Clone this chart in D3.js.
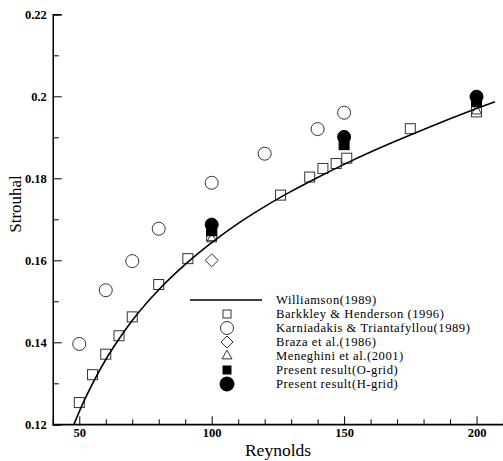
<!DOCTYPE html>
<html><head><meta charset="utf-8">
<script src="https://cdn.jsdelivr.net/npm/d3@7"></script>
<style>body{margin:0;background:#fff}svg{display:block}</style>
</head><body>
<script>
// ---- data ----
const williamsonRe = [48, 50, 55, 60, 65, 70, 80, 90, 100, 110, 120, 130, 140, 150, 160, 170, 180, 190, 200, 207];
const williamsonSt = [0.1200, 0.1231, 0.1299, 0.1358, 0.1408, 0.1453, 0.1528, 0.1590, 0.1643, 0.1690, 0.1731, 0.1768, 0.1802, 0.1834, 0.1864, 0.1892, 0.1919, 0.1945, 0.1970, 0.1987];
const barkleyRe = [50, 55, 60, 65, 70, 80, 91, 100, 126, 137, 142, 147, 151, 175, 200];
const barkleySt = [0.1253, 0.1321, 0.1371, 0.1416, 0.1462, 0.1541, 0.1604, 0.1660, 0.1759, 0.1803, 0.1824, 0.1836, 0.1849, 0.1921, 0.1962];
const karniRe = [50, 60, 70, 80, 100, 120, 140, 150];
const karniSt = [0.1396, 0.1527, 0.1598, 0.1677, 0.1789, 0.1860, 0.1920, 0.1960];
const brazaRe = [100];
const brazaSt = [0.1600];
const meneghiniRe = [100, 200];
const meneghiniSt = [0.1652, 0.1964];
const oGridRe = [100, 150, 200];
const oGridSt = [0.1672, 0.1882, 0.1988];
const hGridRe = [100, 150, 200];
const hGridSt = [0.1687, 0.1901, 0.1999];
const xMajorTicks = [50, 100, 150, 200];
const xMinorTicks = [60, 70, 80, 90, 110, 120, 130, 140, 160, 170, 180, 190];
const yMajorTicks = [0.12, 0.14, 0.16, 0.18, 0.2, 0.22];
const yMinorTicks = [0.13, 0.15, 0.17, 0.19, 0.21];
const legendLabels = ["Williamson(1989)", "Barkkley & Henderson (1996)", "Karniadakis & Triantafyllou(1989)",
  "Braza et al.(1986)", "Meneghini et al.(2001)", "Present result(O-grid)", "Present result(H-grid)"];

const W = 503, H = 461;
const svg = d3.select("body").append("svg").attr("width", W).attr("height", H);
const font = "'Liberation Serif','Times New Roman',serif";

const x = d3.scaleLinear().domain([40, 210]).range([52.8, 503]);
const y = d3.scaleLinear().domain([0.12, 0.22]).range([424.3, 14.3]);

const zip = (a, b) => a.map((v, i) => [v, b[i]]);

// axes
const xAxisMajor = d3.axisBottom(x).tickValues(xMajorTicks).tickSize(-8).tickPadding(4).tickFormat(d3.format("d"));
const xAxisMinor = d3.axisBottom(x).tickValues(xMinorTicks).tickSize(-5).tickFormat("");
const yAxisMajor = d3.axisLeft(y).tickValues(yMajorTicks).tickSize(-9).tickPadding(6).tickFormat(d => String(+d.toFixed(2)));
const yAxisMinor = d3.axisLeft(y).tickValues(yMinorTicks).tickSize(-6).tickFormat("");

function styleAxis(g) {
  g.select(".domain").attr("stroke", "#000").attr("stroke-width", 1.2);
  g.selectAll(".tick line").attr("stroke", "#000").attr("stroke-width", 1);
  g.selectAll("text").attr("font-family", font).attr("font-size", 12.5).attr("font-weight", "bold").attr("fill", "#000");
}
const gx = svg.append("g").attr("transform", `translate(0,${y(0.12)})`).call(xAxisMajor).call(styleAxis);
svg.append("g").attr("transform", `translate(0,${y(0.12)})`).call(xAxisMinor).call(styleAxis);
const gy = svg.append("g").attr("transform", `translate(${x(40)},0)`).call(yAxisMajor).call(styleAxis);
svg.append("g").attr("transform", `translate(${x(40)},0)`).call(yAxisMinor).call(styleAxis);
gx.selectAll(".domain").attr("d", `M${x(40)},0H${W}`);
gy.selectAll("text").attr("dy", "0.35em");

// axis titles
svg.append("text").attr("x", 278).attr("y", 456).attr("text-anchor", "middle")
  .attr("font-family", font).attr("font-size", 17.5).text("Reynolds");
svg.append("text").attr("transform", `translate(21,204) rotate(-90)`).attr("text-anchor", "middle")
  .attr("font-family", font).attr("font-size", 17).text("Strouhal");

// marker helpers
function drawMarker(g, type, cx, cy, s) {
  if (type === "sq" || type === "fsq") {
    g.append("rect").attr("x", cx - s / 2).attr("y", cy - s / 2).attr("width", s).attr("height", s)
      .attr("fill", type === "fsq" ? "#000" : "none").attr("stroke", type === "fsq" ? "#000" : "#333").attr("stroke-width", 1);
  } else if (type === "ci" || type === "fci") {
    g.append("circle").attr("cx", cx).attr("cy", cy).attr("r", s / 2)
      .attr("fill", type === "fci" ? "#000" : "none").attr("stroke", type === "fci" ? "#000" : "#333").attr("stroke-width", 1);
  } else if (type === "di") {
    const h = s / 2;
    g.append("path").attr("d", `M${cx},${cy - h}L${cx + h},${cy}L${cx},${cy + h}L${cx - h},${cy}Z`)
      .attr("fill", "none").attr("stroke", "#333").attr("stroke-width", 1);
  } else if (type === "tr") {
    const h = s * Math.sqrt(3) / 2;
    g.append("path").attr("d", `M${cx},${cy - h * 2 / 3}L${cx + s / 2},${cy + h / 3}L${cx - s / 2},${cy + h / 3}Z`)
      .attr("fill", "none").attr("stroke", "#333").attr("stroke-width", 1);
  }
}

const marks = svg.append("g");
zip(barkleyRe, barkleySt).forEach(([a, b]) => drawMarker(marks, "sq", x(a), y(b), 10));
zip(karniRe, karniSt).forEach(([a, b]) => drawMarker(marks, "ci", x(a), y(b), 13));
zip(brazaRe, brazaSt).forEach(([a, b]) => drawMarker(marks, "di", x(a), y(b), 13));
zip(meneghiniRe, meneghiniSt).forEach(([a, b]) => drawMarker(marks, "tr", x(a), y(b), 10));
zip(oGridRe, oGridSt).forEach(([a, b]) => drawMarker(marks, "fsq", x(a), y(b), 10));
zip(hGridRe, hGridSt).forEach(([a, b]) => drawMarker(marks, "fci", x(a), y(b), 13));

// Williamson line
const line = d3.line().x(d => x(d[0])).y(d => y(d[1])).curve(d3.curveMonotoneX);
svg.append("path").datum(zip(williamsonRe, williamsonSt)).attr("d", line)
  .attr("fill", "none").attr("stroke", "#000").attr("stroke-width", 1.6);

// legend
const lg = svg.append("g");
const rowY = i => 300 + 14 * i;
const types = ["line", "sq", "ci", "di", "tr", "fsq", "fci"];
const lsize = {sq: 8, ci: 13, di: 12, tr: 10, fsq: 8, fci: 14};
legendLabels.forEach((t, i) => {
  const cy = rowY(i);
  if (types[i] === "line") {
    lg.append("line").attr("x1", 190).attr("x2", 262).attr("y1", cy).attr("y2", cy).attr("stroke", "#000").attr("stroke-width", 1.3);
  } else {
    drawMarker(lg, types[i], 227, cy, lsize[types[i]]);
  }
  lg.append("text").attr("x", 276).attr("y", cy).attr("dy", "0.35em")
    .attr("font-family", font).attr("font-size", 12.6).attr("letter-spacing", "0.55px").attr("fill", "#000").text(t);
});
</script>
</body></html>
